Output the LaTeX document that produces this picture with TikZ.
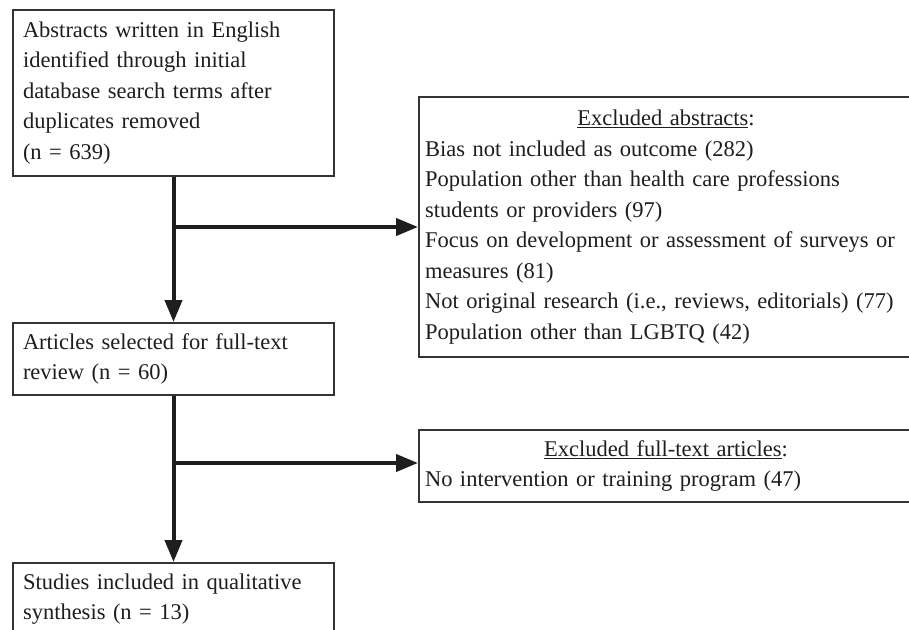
\documentclass[tikz,border=0pt]{standalone}
\usepackage{fontspec}
\setmainfont{Liberation Serif}
\usetikzlibrary{arrows.meta}
\definecolor{ink}{HTML}{1E1E1E}
\definecolor{frame}{HTML}{333333}
\begin{document}
\begin{tikzpicture}[x=1pt,y={(0pt,-1pt)},
  box/.style={draw=frame, line width=2pt, anchor=north west, align=left,
    text=ink, inner ysep=0pt, font=\fontsize{22.5pt}{30.5pt}\selectfont},
  leftbox/.style={box, inner xsep=10pt, text width=301pt},
  rightbox/.style={box, inner xsep=6pt, text width=482pt},
  conn/.style={draw=ink, line width=4pt},
  arr/.style={conn, -{Triangle[length=22pt,width=17pt]}}]
\useasboundingbox (0,0) rectangle (909,629);
\clip (0,0) rectangle (909,629);
\fill[white] (0,0) rectangle (909,629);

\node[leftbox, minimum height=166pt] (b1) at (12,9)
  {Abstracts written in English\\identified through initial\\database search terms after\\duplicates removed\\(n = 639)};
\node[rightbox, minimum height=260pt] (b2) at (418,96)
  {\makebox[\linewidth]{\underline{Excluded abstracts}:}\\
   Bias not included as outcome (282)\\
   Population other than health care professions\\
   students or providers (97)\\
   Focus on development or assessment of surveys or\\
   measures (81)\\
   Not original research (i.e., reviews, editorials) (77)\\
   Population other than LGBTQ (42)};
\node[leftbox, minimum height=72pt] (b3) at (12,322)
  {Articles selected for full-text\\review (n = 60)};
\node[rightbox, minimum height=72pt] (b4) at (418,429)
  {\makebox[\linewidth]{\underline{Excluded full-text articles}:}\\
   No intervention or training program (47)};
\node[leftbox, minimum height=72pt] (b5) at (12,562)
  {Studies included in qualitative\\synthesis (n = 13)};

\coordinate (j1) at (b1.south |- 0,227);
\coordinate (j2) at (b3.south |- 0,463);
\draw[arr] (b1.south) -- (b3.north);
\draw[arr] (j1) -- (j1 -| b2.west);
\draw[arr] (b3.south) -- (b5.north);
\draw[arr] (j2) -- (j2 -| b4.west);
\end{tikzpicture}
\end{document}
